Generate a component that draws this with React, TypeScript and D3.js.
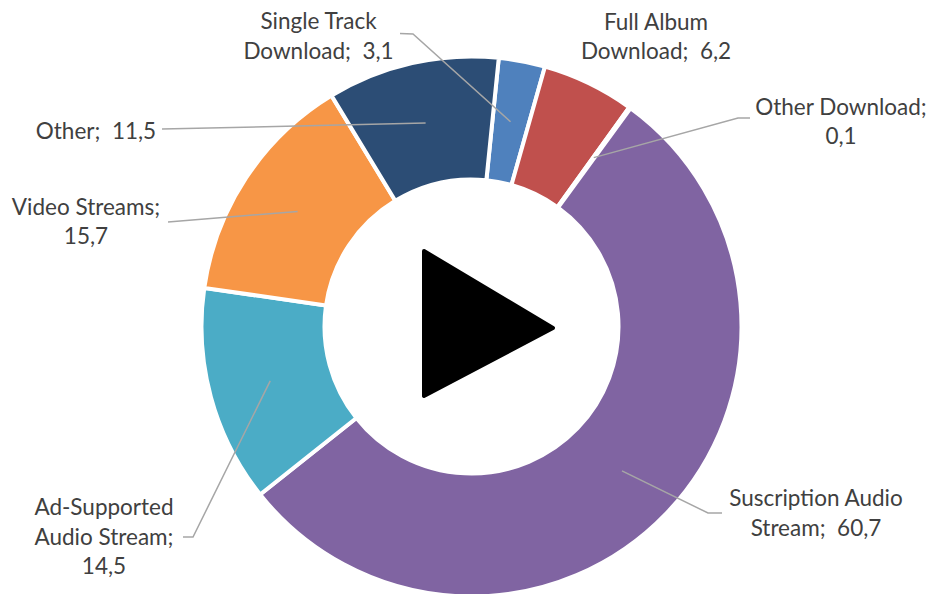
import React from "react";
import * as d3 from "d3";

const categories = ["Single Track Download", "Full Album Download", "Other Download", "Suscription Audio Stream", "Ad-Supported Audio Stream", "Video Streams", "Other"];
const values = [3.1, 6.2, 0.1, 60.7, 14.5, 15.7, 11.5];
const colors = ["#4f81bd", "#c0504d", "#9bbb59", "#8064a2", "#4bacc6", "#f79646", "#2c4d75"];
const labelLines = [
  ["Single Track", "Download;  3,1"],
  ["Full Album", "Download;  6,2"],
  ["Other Download;", "0,1"],
  ["Suscription Audio", "Stream;  60,7"],
  ["Ad-Supported", "Audio Stream;", "14,5"],
  ["Video Streams;", "15,7"],
  ["Other;  11,5"],
];

const W = 930, H = 594;
const cx = 471.5, cy = 326.5, rOuter = 270, rInner = 147;
const startDeg = 5.8;
// label centre x, first baseline y
const labelPos: [number, number][] = [[318.5, 29], [656, 29.5], [841, 114.5], [816, 506], [104, 515], [86, 214.5], [96, 138.5]];
// leader line: points from the label towards the slice (the end is the slice centroid)
const leaderStart: ([number, number][] | null)[] = [
  [[400, 33.5], [413, 34]],
  null,
  [[750, 118], [738, 118]],
  [[722, 513], [708, 513]],
  [[183, 537], [193, 537]],
  [[168, 222]],
  [[162, 129]],
];

export default function App() {
  const pie = d3.pie<number>().sort(null)
    .startAngle((startDeg * Math.PI) / 180)
    .endAngle((startDeg * Math.PI) / 180 + 2 * Math.PI);
  const arcs = pie(values);
  const arc = d3.arc<d3.PieArcDatum<number>>().innerRadius(rInner).outerRadius(rOuter);
  const line = d3.line();
  return (
    <svg width={W} height={H} viewBox={`0 0 ${W} ${H}`} style={{ position: "absolute", left: 0, top: 0, background: "#fff" }}>
      <g transform={`translate(${cx},${cy})`}>
        {arcs.map((a, i) => (
          <path key={categories[i]} d={arc(a) ?? ""} fill={colors[i]} stroke="#fff" strokeWidth={4} />
        ))}
      </g>
      {arcs.map((a, i) => {
        const s = leaderStart[i];
        if (!s) return null;
        const [mx, my] = arc.centroid(a);
        const pts = [...s, [cx + mx, cy + my] as [number, number]];
        return <path key={i} d={line(pts) ?? ""} fill="none" stroke="#a6a6a6" strokeWidth={1.5} />;
      })}
      {labelLines.map((ls, i) => (
        <text key={i} textAnchor="middle" fontFamily="Lato" fontSize={22.5} fill="#404040">
          {ls.map((t, j) => (
            <tspan key={j} x={labelPos[i][0]} y={labelPos[i][1] + j * 29.5} xmlSpace="preserve" style={{ whiteSpace: "pre" }}>{t}</tspan>
          ))}
        </text>
      ))}
      <path d="M424,251 L553,328 L424,396 Z" fill="#000" stroke="#000" strokeWidth={4} strokeLinejoin="round" />
    </svg>
  );
}
